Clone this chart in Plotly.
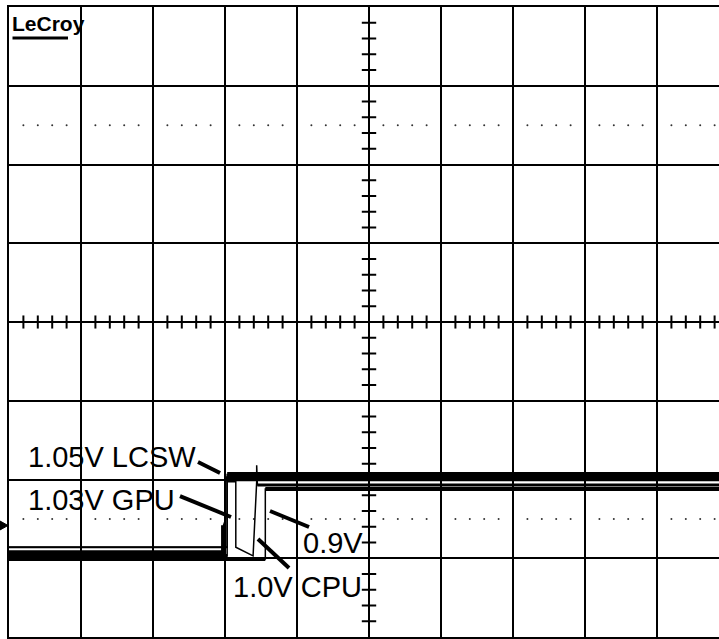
import numpy as np
import plotly.graph_objects as go

# Screen geometry in scope divisions: 10 horizontal x 8 vertical, centre at (0, 0)
X_MIN, X_MAX = -5.0, 4.861
Y_MIN, Y_MAX = -4.0, 4.0

# Channel names and captions
channels = ["1.05V LCSW", "1.03V GPU", "1.0V CPU", "0.9V"]

# Acquired waveforms (time in divisions, level in divisions)
lcsw_t = [-5.0, -1.97, -1.97, 4.87]
lcsw_v = [-2.86, -2.86, -1.935, -1.935]

gpu_t = [-5.0, -2.02, -2.02, -1.99, -1.99, 4.87]
gpu_v = [-2.93, -2.93, -2.58, -2.50, -1.99, -1.99]

cpu_t = [-5.0, -1.97, -1.97, -1.85, -1.85, -1.61, -1.56, -1.56, -1.55, 4.87]
cpu_v = [-2.97, -2.97, -2.03, -2.03, -2.86, -2.97, -2.03, -1.82, -2.07, -2.07]

v09_t = [-5.0, -1.44, -1.44, 4.87]
v09_v = [-3.01, -3.01, -2.12, -2.12]

# name -> (time, level, width of the settled-high band)
waves = {
    "1.05V LCSW": (lcsw_t, lcsw_v, 5.0),
    "1.03V GPU": (gpu_t, gpu_v, 5.0),
    "1.0V CPU": (cpu_t, cpu_v, 3.0),
    "0.9V": (v09_t, v09_v, 4.0),
}
# width of the settled-low band, and how many leading points it covers
low_band = {"1.05V LCSW": (2.0, 2), "1.03V GPU": (5.0, 3), "1.0V CPU": (4.0, 2), "0.9V": (4.0, 2)}

# Caption positions (left edge, vertical centre) and leader lines (label end -> trace)
captions = {
    "1.05V LCSW": (-4.76, -1.72),
    "1.03V GPU": (-4.76, -2.26),
    "0.9V": (-0.95, -2.81),
    "1.0V CPU": (-1.92, -3.365),
}
leaders = {
    "1.05V LCSW": ((-2.375, -1.778), (-2.069, -1.917)),
    "1.03V GPU": ((-2.625, -2.210), (-1.917, -2.476)),
    "0.9V": ((-0.833, -2.603), (-1.375, -2.400)),
    "1.0V CPU": ((-1.111, -3.124), (-1.542, -2.756)),
}

INK = "#000000"
fig = go.Figure()

# Minor ticks on the centre cross (5 per division)
minor = np.round(np.arange(-5.0, 5.0001, 0.2), 3)
minor_x = [m for m in minor if abs(m - round(m)) > 1e-6 and X_MIN < m < X_MAX]
minor_y = [m for m in np.round(np.arange(-4.0, 4.0001, 0.2), 3) if abs(m - round(m)) > 1e-6]

hx, hy = [], []
for m in minor_x:
    hx += [m, m, None]
    hy += [-0.083, 0.083, None]
vx, vy = [], []
for m in minor_y:
    vx += [-0.1, 0.1, None]
    vy += [m, m, None]
fig.add_trace(go.Scatter(x=hx, y=hy, mode="lines", line=dict(color=INK, width=2),
                         hoverinfo="skip", showlegend=False))
fig.add_trace(go.Scatter(x=vx, y=vy, mode="lines", line=dict(color=INK, width=2),
                         hoverinfo="skip", showlegend=False))

# Dotted half-division rows
dot_x = minor_x * 2
dot_y = [2.5] * len(minor_x) + [-2.5] * len(minor_x)
fig.add_trace(go.Scatter(x=dot_x, y=dot_y, mode="markers",
                         marker=dict(color="#333333", size=2, line=dict(width=0)),
                         hoverinfo="skip", showlegend=False))

# Waveforms: thin edges, thicker settled levels (noise band)
for name in channels:
    t, v, band = waves[name]
    lw, n_low = low_band[name]
    fig.add_trace(go.Scatter(x=t, y=v, mode="lines", line=dict(color=INK, width=1.5),
                             name=name, showlegend=False, hoverinfo="skip"))
    fig.add_trace(go.Scatter(x=t[:n_low], y=v[:n_low], mode="lines",
                             line=dict(color=INK, width=lw),
                             showlegend=False, hoverinfo="skip"))
    fig.add_trace(go.Scatter(x=t[-2:], y=v[-2:], mode="lines", line=dict(color=INK, width=band),
                             showlegend=False, hoverinfo="skip"))

shapes = []
for name in channels:
    (x0, y0), (x1, y1) = leaders[name]
    shapes.append(dict(type="line", xref="x", yref="y", x0=x0, y0=y0, x1=x1, y1=y1,
                       line=dict(color=INK, width=4)))

# Ground reference marker at the left edge
shapes.append(dict(type="path", xref="paper", yref="y",
                   path="M -0.0127,-2.527 L -0.0014,-2.584 L -0.0127,-2.641 Z",
                   fillcolor=INK, line=dict(color=INK, width=1)))
# Logo underline
shapes.append(dict(type="line", xref="paper", yref="paper",
                   x0=(12.5 - 9) / 710, x1=(68 - 9) / 710,
                   y0=1 - (38 - 7) / 630, y1=1 - (38 - 7) / 630,
                   line=dict(color=INK, width=3)))

annotations = []
for name in channels:
    x, y = captions[name]
    annotations.append(dict(x=x, y=y, xref="x", yref="y", text=name, showarrow=False,
                            xanchor="left", yanchor="middle",
                            font=dict(family="Liberation Sans, Arial, sans-serif",
                                      size=29, color=INK)))
annotations.append(dict(x=(10 - 9) / 710, y=1 - (10 - 7) / 630, xref="paper", yref="paper",
                        text="<b>LeCroy</b>", showarrow=False, xanchor="left", yanchor="top",
                        font=dict(family="Liberation Sans, Arial, sans-serif", size=21,
                                  color=INK)))

axis_common = dict(showticklabels=False, ticks="", showgrid=True, gridcolor=INK, gridwidth=2,
                   dtick=1, tick0=0, zeroline=True, zerolinecolor=INK, zerolinewidth=2,
                   showline=True, linecolor=INK, linewidth=2, fixedrange=True)

fig.update_layout(
    width=719, height=639,
    margin=dict(l=9, r=0, t=7, b=2, pad=0),
    paper_bgcolor="white", plot_bgcolor="white",
    xaxis=dict(range=[X_MIN, X_MAX], mirror=True, **axis_common),
    yaxis=dict(range=[Y_MIN, Y_MAX], mirror=False, **axis_common),
    shapes=shapes, annotations=annotations, showlegend=False,
)

fig.write_html("out.html")
